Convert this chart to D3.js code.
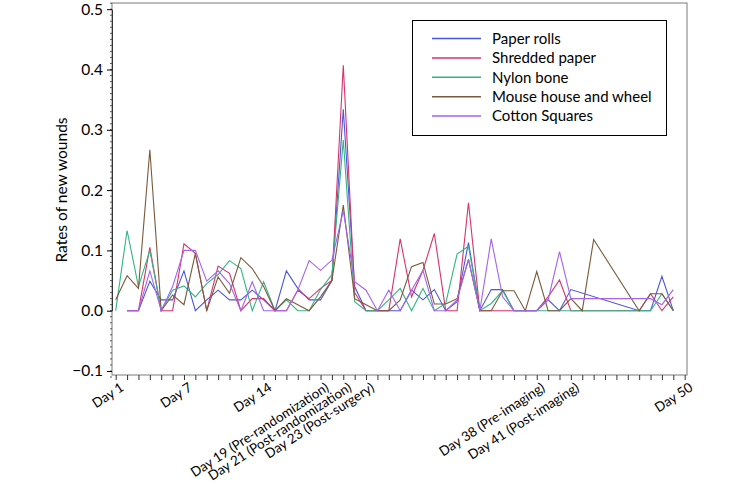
<!DOCTYPE html>
<html>
<head>
<meta charset="utf-8">
<title>Rates of new wounds</title>
<script src="https://d3js.org/d3.v7.min.js"></script>
<style>
  body { margin: 0; background: #fff; }
  text { font-family: Lato, "Open Sans", sans-serif; fill: #000; }
</style>
</head>
<body>
<script>
var w = 745, h = 484;

// days 1..50 (null = no value that day)
var days = d3.range(1, 51);
var seriesNames = ["Paper rolls", "Shredded paper", "Nylon bone", "Mouse house and wheel", "Cotton Squares"];
var colors = ["#4b55e0", "#d8336c", "#33b584", "#7a5a3a", "#a463f0"];

var paperRolls = [null, 0, 0, 0.049, 0.018, 0.018, 0.066, 0, 0.018, 0.034,
  0.018, 0.018, 0.034, 0.018, 0, 0.066, 0.037, 0.018, 0.018, 0.05,
  0.334, 0.04, 0, 0, 0, 0, 0.034, 0.018, 0.035, 0,
  0.015, 0.113, 0, 0.035, 0.035, 0, 0, 0, 0.018, 0,
  0.035, null, null, null, null, null, 0, 0, 0.057, 0];
var shreddedPaper = [null, 0, 0, 0.105, 0, 0, 0.111, 0.095, 0, 0.074,
  0.062, 0, 0.02, 0.02, 0, 0, 0.034, 0.02, 0.037, 0.05,
  0.407, 0.03, 0, 0, 0, 0.119, 0.023, 0.067, 0.128, 0,
  0, 0.179, 0, 0, 0, 0, 0, 0, 0.023, 0.051,
  0, 0, 0, null, null, null, 0, 0.028, 0, 0.023];
var nylonBone = [0, 0.133, 0.04, 0.1, 0, 0.034, 0.041, 0.023, 0.045, 0.06,
  0.083, 0.07, 0, 0.048, 0, 0.018, 0, 0, 0.035, 0.06,
  0.283, 0.015, 0, 0, 0.018, 0.037, 0, 0.037, 0, 0.012,
  0.094, 0.107, 0, 0.012, 0.033, 0, 0, 0, 0, 0,
  0, 0, 0, null, null, null, 0, 0, 0.028, 0];
var mouseHouse = [0.018, 0.058, 0.037, 0.267, 0, 0.026, 0.01, 0.095, 0, 0.056,
  0.029, 0.088, 0.07, 0.04, 0, 0.02, 0.01, 0, 0.023, 0.05,
  0.175, 0.02, 0.01, 0, 0, 0.018, 0.073, 0.08, 0.011, 0.011,
  0.02, 0.085, 0, 0, 0.033, 0.033, 0, 0.065, 0, 0,
  0.02, 0, 0.118, null, null, null, 0, 0.028, 0.028, 0];
var cottonSquares = [null, 0, 0, 0.066, 0, 0.04, 0.1, 0.1, 0.049, 0.066,
  0.045, 0, 0.048, 0, 0, 0, 0.034, 0.083, 0.067, 0.084,
  0.166, 0.048, 0.034, 0, 0.034, 0, 0.034, 0.067, 0, 0,
  0.018, 0.085, 0, 0.119, 0.023, 0, 0, 0, 0.018, 0.098,
  0.02, 0.02, 0.02, null, null, null, 0.02, 0.02, 0.01, 0.035];
var allSeries = [paperRolls, shreddedPaper, nylonBone, mouseHouse, cottonSquares];

var yTicks = [-0.1, 0.0, 0.1, 0.2, 0.3, 0.4, 0.5];
// tick index where each label sits (51 ticks on the axis)
var xLabelTicks = [1, 7, 14, 19, 21, 23, 38, 41, 51];
var xLabels = ["Day 1", "Day 7", "Day 14", "Day 19 (Pre-randomization)", "Day 21 (Post-randomization)",
  "Day 23 (Post-surgery)", "Day 38 (Pre-imaging)", "Day 41 (Post-imaging)", "Day 50"];

var frame = {left: 112, right: 687, top: 3, bottom: 375};

var svg = d3.select("body").append("svg")
  .attr("width", w)
  .attr("height", h);

var x = d3.scaleLinear().domain([1, 50]).range([115.7, 673.3]);
var y = d3.scaleLinear().domain([0, 0.5]).range([310.7, 9.2]);

// plot frame
svg.append("rect")
  .attr("x", frame.left).attr("y", frame.top)
  .attr("width", frame.right - frame.left).attr("height", frame.bottom - frame.top)
  .attr("fill", "none").attr("stroke", "#7a7a7a").attr("stroke-width", 1);

// y axis with minor ticks
var yMinor = d3.range(-0.11, 0.511, 0.01);
svg.append("g").selectAll("line").data(yMinor).enter().append("line")
  .attr("x1", frame.left - 2).attr("x2", frame.left)
  .attr("y1", function(d) { return y(d); }).attr("y2", function(d) { return y(d); })
  .attr("stroke", "#333").attr("stroke-width", 0.8);

var yAxis = svg.append("g")
  .attr("transform", "translate(" + frame.left + ",0)")
  .call(d3.axisLeft(y).tickValues(yTicks).tickSize(5).tickSizeOuter(0).tickFormat(d3.format(".1f")));
yAxis.select(".domain").attr("stroke", "#333");
yAxis.selectAll("text").attr("font-size", 15.5).attr("font-family", "Lato").attr("dx", "-1");

// x axis
var xAxis = svg.append("g")
  .attr("transform", "translate(0," + frame.bottom + ")")
  .call(d3.axisBottom(x).tickValues(d3.range(1, 52)).tickSize(5).tickSizeOuter(0).tickFormat(""));
xAxis.select(".domain").remove();
xAxis.selectAll("line").attr("stroke", "#333");

svg.append("g").selectAll("text").data(xLabelTicks).enter().append("text")
  .attr("transform", function(d) { return "translate(" + (x(d) + 4) + "," + (frame.bottom + 7) + ") rotate(-33)"; })
  .attr("text-anchor", "end")
  .attr("dy", "0.7em")
  .attr("font-size", 13.4)
  .text(function(d, i) { return xLabels[i]; });

// y label
svg.append("text")
  .attr("transform", "translate(67,190) rotate(-90)")
  .attr("text-anchor", "middle")
  .attr("font-size", 15.5)
  .text("Rates of new wounds");

// lines
var line = d3.line()
  .x(function(d) { return x(d.day); })
  .y(function(d) { return y(d.v); });

allSeries.forEach(function(vals, i) {
  var pts = days.map(function(d, j) { return {day: d, v: vals[j]}; })
    .filter(function(p) { return p.v !== null; });
  svg.append("path")
    .datum(pts)
    .attr("d", line)
    .attr("fill", "none")
    .attr("stroke", colors[i])
    .attr("stroke-width", 1.1);
});

// legend
var legend = svg.append("g");
legend.append("rect")
  .attr("x", 412.5).attr("y", 20.5).attr("width", 254).attr("height", 115)
  .attr("fill", "#fff").attr("stroke", "#000").attr("stroke-width", 1);
seriesNames.forEach(function(name, i) {
  var ly = 38.5 + i * 19.4;
  legend.append("line")
    .attr("x1", 432).attr("x2", 481).attr("y1", ly).attr("y2", ly)
    .attr("stroke", colors[i]).attr("stroke-width", 1.5);
  legend.append("text")
    .attr("x", 492).attr("y", ly).attr("dy", "0.35em")
    .attr("font-size", 15)
    .text(name);
});
</script>
</body>
</html>
